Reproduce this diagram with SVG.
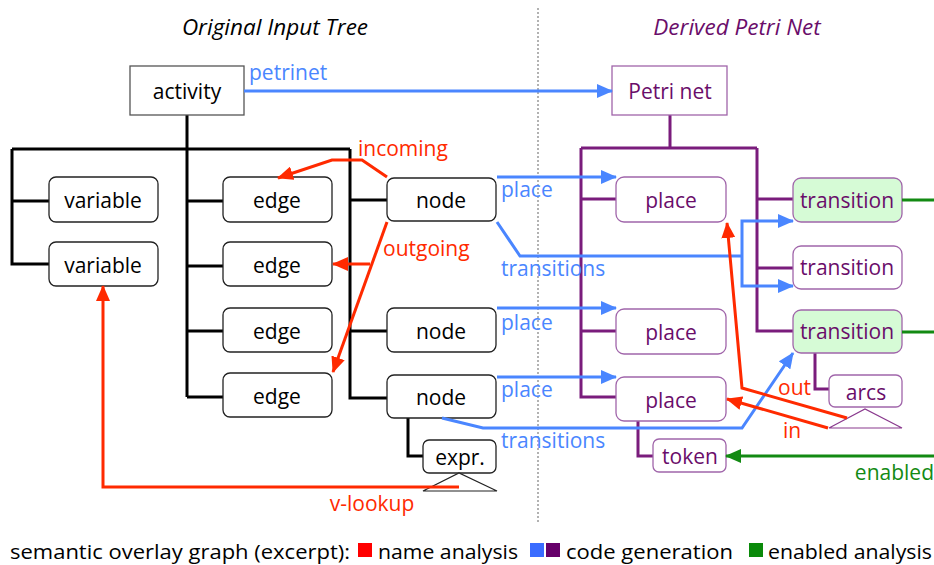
<svg xmlns="http://www.w3.org/2000/svg" width="934" height="565" viewBox="0 0 934 565">
<style>
text{font-family:"Open Sans","Liberation Sans",sans-serif}
.t{font-size:21px;text-anchor:middle}
.bk{fill:#fff;stroke:#222;stroke-width:1.3}
.pb{fill:#fff;stroke:#a065aa;stroke-width:1.3}
.gb{fill:#d6fbd6;stroke:#a065aa;stroke-width:1.3}
.pt{fill:#6a0d6a}
.tree{fill:none;stroke:#000;stroke-width:3}
.ptree{fill:none;stroke:#7a1c7c;stroke-width:3}
.blue{fill:none;stroke:#4a86ff;stroke-width:3}
.red{fill:none;stroke:#ff2a00;stroke-width:3}
.green{fill:none;stroke:#138a13;stroke-width:3}
.lb{font-size:21px;fill:#4a86ff}
.lr{font-size:21px;fill:#ff2a00}
.lg{font-size:21px;fill:#138a13}
.title{font-size:22.5px;font-style:italic;text-anchor:middle}
.leg{font-size:20px}
</style>
<defs>
<marker id="ab" markerUnits="userSpaceOnUse" markerWidth="16" markerHeight="14" refX="15" refY="7" orient="auto"><path d="M0,0 L16,7 L0,14 z" fill="#4a86ff"/></marker>
<marker id="ar" markerUnits="userSpaceOnUse" markerWidth="16" markerHeight="14" refX="15" refY="7" orient="auto"><path d="M0,0 L16,7 L0,14 z" fill="#ff2a00"/></marker>
<marker id="ag" markerUnits="userSpaceOnUse" markerWidth="16" markerHeight="14" refX="15" refY="7" orient="auto"><path d="M0,0 L16,7 L0,14 z" fill="#138a13"/></marker>
</defs>
<rect width="934" height="565" fill="#fff"/>
<line x1="538" y1="8" x2="538" y2="522" stroke="#999" stroke-width="1.5" stroke-dasharray="2,2"/>
<text class="title" x="275" y="35" fill="#000">Original Input Tree</text>
<text class="title" x="737" y="35" fill="#6a0d6a">Derived Petri Net</text>

<g id="tree-lines">
<path class="tree" d="M187,115 V149 M12,149 H350 M12,149 V264 H49 M12,201 H49 M187,149 V397 M187,201 H223 M187,266 H223 M187,331 H223 M187,397 H223 M350,149 V398 H387 M350,200 H387 M350,331 H387 M408,418 V456 H423"/>
<path class="ptree" d="M670,115 V148 M581,148 H757 M581,148 V397 H616 M581,199 H616 M581,331 H616 M757,148 V331 H793 M757,199 H793 M757,268 H793 M638,421 V456 H653 M815,353 V389 H829"/>
</g>

<g id="activity"><rect x="130" y="66" width="114" height="49" fill="#fff" stroke="#555" stroke-width="1.3"/><text class="t" x="187" y="99">activity</text></g>
<g id="variable1"><rect class="bk" x="49" y="177" width="109" height="45" rx="7"/><text class="t" x="103" y="208">variable</text></g>
<g id="variable2"><rect class="bk" x="49" y="242" width="109" height="44" rx="7"/><text class="t" x="103" y="273">variable</text></g>
<g id="edge1"><rect class="bk" x="223" y="177" width="109" height="45" rx="7"/><text class="t" x="277" y="208">edge</text></g>
<g id="edge2"><rect class="bk" x="223" y="242" width="109" height="44" rx="7"/><text class="t" x="277" y="273">edge</text></g>
<g id="edge3"><rect class="bk" x="223" y="308" width="109" height="44" rx="7"/><text class="t" x="277" y="339">edge</text></g>
<g id="edge4"><rect class="bk" x="223" y="373" width="109" height="44" rx="7"/><text class="t" x="277" y="404">edge</text></g>
<g id="node1"><rect class="bk" x="387" y="178" width="109" height="43" rx="7"/><text class="t" x="441" y="208">node</text></g>
<g id="node2"><rect class="bk" x="387" y="308" width="109" height="44" rx="7"/><text class="t" x="441" y="339">node</text></g>
<g id="node3"><rect class="bk" x="387" y="375" width="109" height="43" rx="7"/><text class="t" x="441" y="405">node</text></g>
<g id="expr"><rect class="bk" x="423" y="440" width="73" height="33" rx="6"/><text class="t" x="460" y="465">expr.</text>
<path d="M423,491 L459,473 L497,491 Z" fill="#fff" stroke="#222" stroke-width="1.2"/></g>

<g id="petrinet"><rect x="612" y="66" width="115" height="49" fill="#fff" stroke="#a065aa" stroke-width="1.3"/><text class="t pt" x="670" y="99">Petri net</text></g>
<g id="place1"><rect class="pb" x="616" y="177" width="110" height="45" rx="8"/><text class="t pt" x="671" y="208">place</text></g>
<g id="place2"><rect class="pb" x="616" y="309" width="110" height="45" rx="8"/><text class="t pt" x="671" y="340">place</text></g>
<g id="place3"><rect class="pb" x="616" y="377" width="110" height="44" rx="8"/><text class="t pt" x="671" y="408">place</text></g>
<g id="token"><rect class="pb" x="653" y="439" width="73" height="33" rx="6"/><text class="t pt" x="690" y="464">token</text></g>
<g id="transition1"><rect class="gb" x="793" y="178" width="109" height="44" rx="8"/><text class="t pt" x="847" y="208">transition</text></g>
<g id="transition2"><rect class="pb" x="793" y="246" width="109" height="43" rx="8"/><text class="t pt" x="847" y="275">transition</text></g>
<g id="transition3"><rect class="gb" x="793" y="310" width="109" height="43" rx="8"/><text class="t pt" x="847" y="339">transition</text></g>
<g id="arcs"><rect class="pb" x="829" y="375" width="73" height="32" rx="6"/><text class="t pt" x="866" y="400">arcs</text>
<path d="M829,428 L865,409 L902,428 Z" fill="#fff" stroke="#8a3a8e" stroke-width="1.2"/></g>

<g id="connectors">
<path class="blue" d="M244,91 H612" marker-end="url(#ab)"/>
<text class="lb" x="249" y="80">petrinet</text>
<path class="blue" d="M497,177 H616" marker-end="url(#ab)"/>
<text class="lb" x="501" y="197">place</text>
<path class="blue" d="M497,308 H616" marker-end="url(#ab)"/>
<text class="lb" x="501" y="330">place</text>
<path class="blue" d="M497,377 H616" marker-end="url(#ab)"/>
<text class="lb" x="501" y="397">place</text>
<path class="blue" d="M497,222 L520,256 H742"/>
<path class="blue" d="M742,256 V221 H793" marker-end="url(#ab)"/>
<path class="blue" d="M742,256 V286 H793" marker-end="url(#ab)"/>
<text class="lb" x="501" y="276">transitions</text>
<path class="blue" d="M442,418 L483,428 H742 L793,353" marker-end="url(#ab)"/>
<text class="lb" x="501" y="448">transitions</text>

<path class="red" d="M387,177 L362,160 H332 L278,178" marker-end="url(#ar)"/>
<text class="lr" x="358" y="156">incoming</text>
<path class="red" d="M387,222 L333,372" marker-end="url(#ar)"/>
<path class="red" d="M370,264 H333" marker-end="url(#ar)"/>
<text class="lr" x="383" y="256">outgoing</text>
<path class="red" d="M459,487 H103 V286" marker-end="url(#ar)"/>
<text class="lr" x="372" y="511" text-anchor="middle">v-lookup</text>
<path class="red" d="M847,418 L742,388 L727,223" marker-end="url(#ar)"/>
<text class="lr" x="778" y="395">out</text>
<path class="red" d="M828,428 L727,399" marker-end="url(#ar)"/>
<text class="lr" x="783" y="438">in</text>

<path class="green" d="M902,200 H934 M902,332 H934"/>
<path class="green" d="M934,456 H726" marker-end="url(#ag)"/>
<text class="lg" x="934" y="480" text-anchor="end">enabled</text>
</g>

<g id="legend">
<text class="leg" x="10" y="559" textLength="340" lengthAdjust="spacingAndGlyphs">semantic overlay graph (excerpt):</text>
<rect x="358" y="543" width="14" height="14" fill="#ff0000"/>
<text class="leg" x="378" y="559" textLength="140" lengthAdjust="spacingAndGlyphs">name analysis</text>
<rect x="530" y="543" width="14" height="14" fill="#3a6cff"/>
<rect x="546" y="543" width="14" height="14" fill="#66006a"/>
<text class="leg" x="566" y="559" textLength="167" lengthAdjust="spacingAndGlyphs">code generation</text>
<rect x="749" y="543" width="14" height="14" fill="#0a8a0a"/>
<text class="leg" x="768" y="559" textLength="164" lengthAdjust="spacingAndGlyphs">enabled analysis</text>
</g>
</svg>
